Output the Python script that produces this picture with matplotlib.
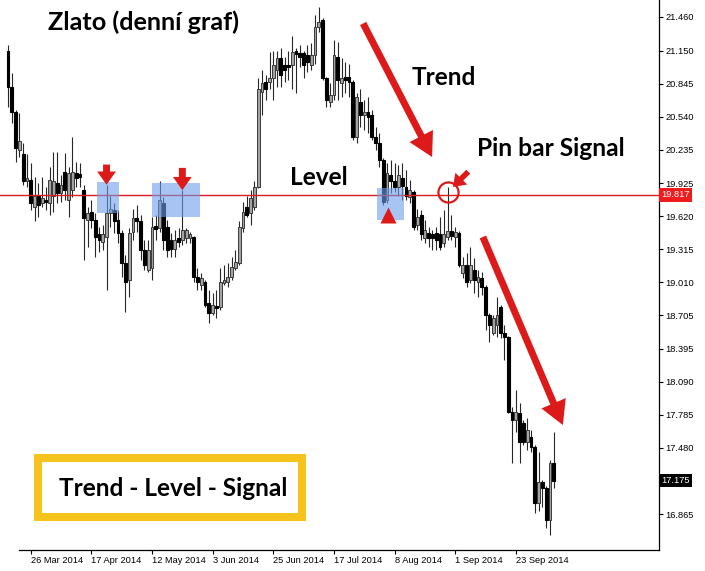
import matplotlib
matplotlib.use('Agg')
import matplotlib.pyplot as plt
import numpy as np
from matplotlib.transforms import blended_transform_factory
from matplotlib.patches import Rectangle

# ---------------- data (daily candles, 18 Mar 2014 - 7 Oct 2014) ----------------
opens = [
    21.15, 20.81, 20.58, 20.23, 20.19, 19.94, 19.95, 19.70, 19.81, 19.74,
    19.77, 19.74, 19.81, 19.93, 19.83, 20.03, 19.77, 19.86, 20.02, 20.01,
    19.86, 19.58, 19.66, 19.58, 19.45, 19.38, 19.43, 19.65, 19.68, 19.58,
    19.46, 19.19, 19.03, 19.47, 19.60, 19.57, 19.31, 19.12, 19.14, 19.53,
    19.51, 19.74, 19.52, 19.40, 19.32, 19.42, 19.40, 19.42, 19.42, 19.43,
    19.06, 18.98, 19.01, 18.82, 18.72, 18.79, 18.78, 19.00, 19.01, 19.06,
    19.14, 19.19, 19.51, 19.70, 19.65, 19.70, 19.89, 20.77, 20.86, 20.86,
    20.90, 20.97, 21.08, 21.02, 21.02, 21.02, 21.15, 21.13, 21.13, 21.11,
    21.02, 21.11, 21.37, 21.43, 20.90, 20.67, 20.74, 21.09, 20.85, 20.91,
    20.91, 20.86, 20.35, 20.67, 20.55, 20.58, 20.55, 20.35, 20.30, 20.14,
    19.77, 20.00, 19.94, 19.89, 19.97, 19.89, 19.80, 19.84, 19.54, 19.63,
    19.42, 19.46, 19.45, 19.46, 19.45, 19.37, 19.43, 19.48, 19.43, 19.46,
    19.09, 19.17, 19.03, 19.12, 19.01, 19.05, 18.96, 18.71, 18.54, 18.61,
    18.78, 18.54, 18.50, 17.81, 17.74, 17.80, 17.71, 17.53, 17.58, 17.49,
    16.97, 17.16, 17.11, 16.81, 17.34]
highs = [
    21.20, 20.94, 20.60, 20.57, 20.30, 20.19, 20.11, 19.98, 19.93, 19.98,
    19.89, 20.07, 20.21, 20.21, 20.00, 20.20, 20.07, 20.35, 20.12, 20.11,
    19.91, 19.70, 19.77, 19.65, 19.52, 19.54, 19.91, 19.81, 19.74, 19.68,
    19.49, 19.26, 19.51, 19.69, 19.72, 19.63, 19.40, 19.40, 19.61, 19.63,
    19.94, 19.80, 19.58, 19.46, 19.49, 19.51, 19.86, 19.51, 19.47, 19.44,
    19.14, 19.09, 19.03, 18.94, 18.91, 18.94, 19.14, 19.17, 19.19, 19.24,
    19.31, 19.57, 19.75, 19.81, 19.86, 19.94, 20.90, 20.97, 20.92, 21.14,
    21.15, 21.15, 21.17, 21.09, 21.15, 21.28, 21.17, 21.20, 21.15, 21.20,
    21.22, 21.48, 21.55, 21.45, 20.91, 20.85, 21.25, 21.23, 21.08, 21.04,
    21.03, 20.88, 20.76, 20.79, 20.69, 20.72, 20.60, 20.44, 20.39, 20.16,
    20.11, 20.14, 20.11, 20.09, 20.11, 20.05, 19.95, 19.86, 19.69, 19.68,
    19.58, 19.52, 19.49, 19.52, 19.61, 19.68, 19.89, 19.63, 19.52, 19.48,
    19.24, 19.28, 19.33, 19.23, 19.12, 19.10, 18.98, 18.72, 18.71, 18.87,
    18.80, 18.61, 18.51, 17.86, 18.01, 17.89, 17.74, 17.75, 17.64, 17.50,
    17.44, 17.18, 17.13, 17.37, 17.62]
lows = [
    20.63, 20.48, 20.12, 20.17, 19.91, 19.89, 19.68, 19.57, 19.61, 19.70,
    19.68, 19.63, 19.66, 19.74, 19.75, 19.77, 19.61, 19.80, 19.89, 19.89,
    19.21, 19.33, 19.51, 19.24, 19.29, 19.31, 18.94, 19.52, 19.46, 19.37,
    19.06, 18.73, 18.87, 19.40, 19.47, 19.21, 19.12, 19.10, 19.03, 19.40,
    19.47, 19.31, 19.24, 19.24, 19.24, 19.33, 19.35, 19.37, 19.37, 19.01,
    18.94, 18.94, 18.78, 18.63, 18.71, 18.68, 18.75, 18.98, 18.96, 19.03,
    19.12, 19.17, 19.47, 19.61, 19.54, 19.68, 19.88, 20.55, 20.69, 20.79,
    20.69, 20.81, 20.81, 20.86, 20.88, 20.79, 20.76, 21.00, 20.90, 20.95,
    20.97, 21.03, 21.32, 20.88, 20.63, 20.63, 20.69, 20.69, 20.72, 20.76,
    20.72, 20.32, 20.30, 20.44, 20.42, 20.39, 20.32, 20.23, 20.07, 19.72,
    19.74, 19.83, 19.84, 19.81, 19.77, 19.77, 19.74, 19.49, 19.49, 19.40,
    19.37, 19.33, 19.31, 19.31, 19.31, 19.33, 19.40, 19.40, 19.33, 19.15,
    19.05, 18.96, 19.00, 18.91, 18.87, 18.89, 18.57, 18.46, 18.52, 18.50,
    18.49, 18.29, 17.80, 17.34, 17.62, 17.34, 17.50, 17.46, 17.44, 16.88,
    16.89, 16.93, 16.74, 16.67, 17.11]
closes = [
    20.81, 20.58, 20.25, 20.31, 19.94, 19.97, 19.74, 19.81, 19.72, 19.79,
    19.75, 19.95, 19.94, 19.83, 19.91, 19.86, 20.02, 20.03, 19.97, 19.98,
    19.60, 19.65, 19.58, 19.43, 19.40, 19.45, 19.65, 19.69, 19.57, 19.46,
    19.19, 19.01, 19.46, 19.60, 19.57, 19.31, 19.17, 19.31, 19.52, 19.50,
    19.77, 19.40, 19.31, 19.32, 19.40, 19.38, 19.49, 19.49, 19.45, 19.06,
    19.01, 19.05, 18.80, 18.72, 18.80, 18.77, 19.01, 19.03, 19.06, 19.15,
    19.20, 19.52, 19.66, 19.63, 19.79, 19.89, 20.79, 20.85, 20.79, 20.90,
    21.02, 21.08, 20.92, 20.97, 21.00, 21.14, 21.12, 21.09, 21.02, 21.04,
    21.11, 21.37, 21.41, 20.90, 20.69, 20.74, 21.11, 20.88, 20.90, 20.88,
    20.86, 20.35, 20.72, 20.55, 20.58, 20.54, 20.35, 20.30, 20.14, 19.75,
    20.02, 19.94, 19.89, 20.00, 19.90, 19.81, 19.86, 19.52, 19.61, 19.45,
    19.49, 19.42, 19.42, 19.40, 19.33, 19.45, 19.48, 19.44, 19.47, 19.17,
    19.17, 19.01, 19.17, 19.03, 19.06, 18.96, 18.71, 18.61, 18.68, 18.71,
    18.54, 18.50, 17.81, 17.74, 17.81, 17.53, 17.53, 17.64, 17.49, 16.97,
    17.16, 17.11, 16.81, 17.34, 17.175]

date_tick_bars = [6, 22, 38, 54, 70, 86, 102, 118, 134]
date_labels = ["26 Mar 2014", "17 Apr 2014", "12 May 2014", "3 Jun 2014",
               "25 Jun 2014", "17 Jul 2014", "8 Aug 2014", "1 Sep 2014",
               "23 Sep 2014"]
price_ticks = [21.460, 21.150, 20.845, 20.540, 20.235, 19.925, 19.620,
               19.315, 19.010, 18.705, 18.395, 18.090, 17.785, 17.480, 16.865]
level_price = 19.817
last_price = 17.175

# ---------------- figure ----------------
W, H = 705, 571
fig = plt.figure(figsize=(W / 100, H / 100), dpi=100)
ax = fig.add_axes([0, 21 / H, 659 / W, 550 / H])

o = np.array(opens); h = np.array(highs); l = np.array(lows); c = np.array(closes)
x = np.arange(len(o))
bull = c >= o

ax.vlines(x, l, h, color='#262626', lw=0.8, zorder=2)
ax.bar(x[bull], (c - o)[bull], bottom=o[bull], width=0.74, color='#a3a3a3',
       edgecolor='#3a3a3a', linewidth=0.7, zorder=3)
ax.bar(x[~bull], (o - c)[~bull], bottom=c[~bull], width=0.74, color='black',
       edgecolor='black', linewidth=0.8, zorder=3)

ax.set_xlim(-2.11, 171.77)
ax.set_ylim(16.534, 21.617)

# axes styling (MT4 look)
for s in ['top', 'left']:
    ax.spines[s].set_visible(False)
ax.spines['right'].set_linewidth(0.9)
ax.spines['bottom'].set_linewidth(0.9)
ax.spines['bottom'].set_bounds(2.9, 171.77)
ax.yaxis.tick_right()
ax.set_yticks(price_ticks, [f'{v:.3f}' for v in price_ticks])
ax.set_xticks(date_tick_bars, date_labels)
ax.tick_params(axis='both', direction='out', length=3, width=0.8,
               labelsize=6.7, colors='black')
ax.tick_params(axis='y', pad=1.5)
ax.tick_params(axis='x', pad=1.5)
for t in ax.get_xticklabels() + ax.get_yticklabels():
    t.set_fontfamily(['Liberation Sans', 'DejaVu Sans'])
for t in ax.get_xticklabels():
    t.set_horizontalalignment('left')

red = '#dd1a1a'
# level line
ax.axhline(level_price, color='#d81e1e', lw=1.0, zorder=4)

tr = blended_transform_factory(ax.transAxes, ax.transData)
ax.text(1.003, level_price, f'{level_price:.3f}', transform=tr, ha='left', va='center',
        fontsize=6.7, color='white', family=['Liberation Sans', 'DejaVu Sans'],
        bbox=dict(boxstyle='square,pad=0.25', fc='#ee1c1c', ec='none'), clip_on=False)
ax.text(1.003, last_price, f'{last_price:.3f}', transform=tr, ha='left', va='center',
        fontsize=6.7, color='white', family=['Liberation Sans', 'DejaVu Sans'],
        bbox=dict(boxstyle='square,pad=0.25', fc='black', ec='none'), clip_on=False)

# blue level zones
zone_color = '#6d9eeb'
for (x0, x1, y0, y1) in [(23.5, 29.3, 19.648, 19.935),
                         (38.0, 50.7, 19.612, 19.926),
                         (97.4, 104.5, 19.584, 19.880)]:
    ax.add_patch(Rectangle((x0, y0), x1 - x0, y1 - y0, facecolor=zone_color,
                           alpha=0.6, lw=0, zorder=5))

# red arrows
big = dict(facecolor=red, edgecolor='none', width=5, headwidth=19, headlength=17, shrink=0)
ax.annotate('', xy=(111.9, 20.166), xytext=(93.7, 21.40), arrowprops=big, zorder=6)
ax.annotate('', xy=(146.4, 17.689), xytext=(125.3, 19.427), arrowprops=big, zorder=6)

small = dict(facecolor=red, edgecolor='none', width=5, headwidth=13.5, headlength=9.5, shrink=0)
ax.annotate('', xy=(26, highs[26]), xytext=(0, 14.5), textcoords='offset points',
            arrowprops=small, zorder=6)
ax.annotate('', xy=(46, highs[46]), xytext=(0, 16), textcoords='offset points',
            arrowprops=small, zorder=6)
pin = dict(facecolor=red, edgecolor='none', width=4, headwidth=12, headlength=8.5, shrink=0)
ax.annotate('', xy=(117.4, 19.889), xytext=(11, 11), textcoords='offset points',
            arrowprops=pin, zorder=6)
ax.plot([116.2], [19.845], marker='o', ms=14.5, mfc='none', mec=red, mew=1.6, zorder=6)
ax.plot([100.3], [19.63], marker='^', ms=12, color=red, mec='none', zorder=6)

# ---------------- texts ----------------
renderer = fig.canvas.get_renderer()


def fit_text(s, x_px, base_px, width_px, size0=16):
    t = fig.text(x_px / W, 1 - base_px / H, s, ha='left', va='baseline',
                 fontsize=size0, fontweight='bold',
                 family=['Lato', 'DejaVu Sans'], color='black', zorder=10)
    wpx = t.get_window_extent(renderer=renderer).width
    t.set_fontsize(size0 * width_px / wpx)
    return t


fit_text('Zlato (denní graf)', 48, 29.5, 192)
fit_text('Trend', 412, 85, 65)
fit_text('Pin bar Signal', 477, 156.5, 148)
fit_text('Level', 290, 185, 58)
fit_text('Trend - Level - Signal', 59, 496, 230)

# yellow frame
fig.add_artist(Rectangle((38 / W, 1 - 517 / H), 264 / W, 59 / H, transform=fig.transFigure,
                         facecolor='none', edgecolor='#f6c21c', lw=5.8, zorder=9))

fig.savefig('out.png', dpi=100)
